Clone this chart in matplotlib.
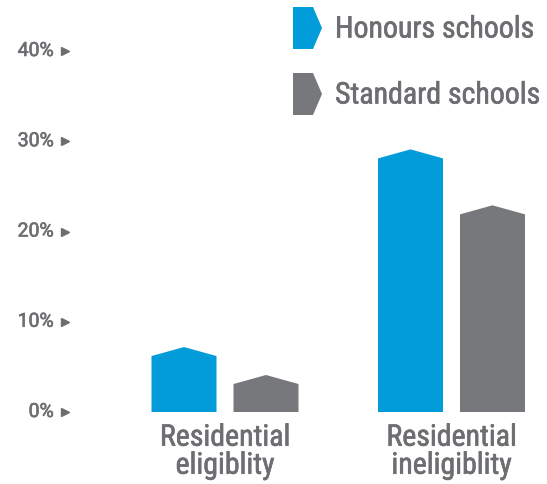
import matplotlib
matplotlib.use("Agg")
import matplotlib.pyplot as plt
from matplotlib.patches import Polygon
import matplotlib.patheffects as pe

# data
categories = ["Residential\neligiblity", "Residential\nineligiblity"]
series_names = ["Honours schools", "Standard schools"]
honours = [6.2, 28.1]
standard = [3.1, 21.9]
yticks = [0, 10, 20, 30, 40]
ytick_labels = ["0%", "10%", "20%", "30%", "40%"]

blue = "#039CDB"
grey = "#77787B"
text_grey = "#6D6E71"

plt.rcParams["font.family"] = ["Roboto Condensed", "DejaVu Sans"]
# regular weight plus a thin outline, roughly a "medium" condensed face
thick = [pe.withStroke(linewidth=0.45, foreground=text_grey)]

W, H = 547, 485
fig = plt.figure(figsize=(W / 100, H / 100), dpi=100)
# axes: 0% at y=413px, 40% at y=52px, full width
ax = fig.add_axes([0, (H - 413) / H, 1, (413 - 52) / H])
ax.set_ylim(0, 40)
unit = 226.5  # px between group centres
ax.set_xlim(-225 / unit, (W - 225) / unit)
ax.axis("off")

bar_w = 65 / unit
offset = 41 / unit
cap = 1.0  # height of the pointed top in data units


def pent_bar(x, h, color):
    l, r = x - bar_w / 2, x + bar_w / 2
    pts = [(l, 0), (l, h), (x, h + cap), (r, h), (r, 0)]
    ax.add_patch(Polygon(pts, closed=True, facecolor=color, edgecolor="none"))


for i, cat in enumerate(categories):
    pent_bar(i - offset, honours[i], blue)
    pent_bar(i + offset, standard[i], grey)
    ax.text(i, -1.3, cat, ha="center", va="top", fontsize=21.5,
            color=text_grey, linespacing=1.0, path_effects=thick)

# y tick labels with small triangles
for v, lab in zip(yticks, ytick_labels):
    ax.text(54 / W, v, lab, transform=ax.get_yaxis_transform(),
            ha="right", va="center", fontsize=14, family="Roboto",
            color=text_grey, path_effects=thick)
    ax.plot([65 / W], [v], marker=">", markersize=6, color=text_grey,
            transform=ax.get_yaxis_transform(), clip_on=False)

# legend with chevron markers
for k, (name, col) in enumerate(zip(series_names, [blue, grey])):
    top = 8 + k * 66
    bot = top + 42
    mid = (top + bot) / 2
    px = [(293, top), (313, top), (322, mid), (313, bot), (293, bot)]
    pts = [(x / W, 1 - y / H) for x, y in px]
    fig.patches.append(Polygon(pts, closed=True, transform=fig.transFigure,
                               facecolor=col, edgecolor="none"))
    fig.text(335 / W, 1 - (mid + 1.5) / H, name, ha="left", va="center",
             fontsize=21.5, color=text_grey, path_effects=thick)

fig.savefig("out.png", dpi=100)
